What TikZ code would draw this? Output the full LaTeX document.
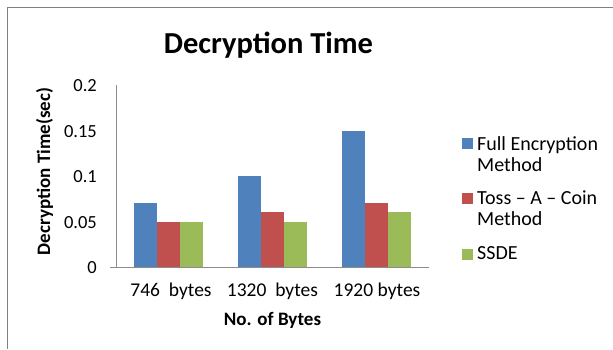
\documentclass[tikz,border=0pt]{standalone}
\usepackage{fontspec}
\setmainfont{Carlito}
\definecolor{serA}{HTML}{4F81BD}
\definecolor{serB}{HTML}{C0504D}
\definecolor{serC}{HTML}{9BBB59}
\definecolor{gridgray}{HTML}{8C8C8C}
\definecolor{framegray}{HTML}{808080}
\begin{document}
\begin{tikzpicture}[x=1pt,y=-1pt,
  gridline/.style={draw=gridgray, line width=0.9pt},
  ticklabel/.style={anchor=east, inner sep=0pt, font=\fontsize{18.5}{18.5}\selectfont},
  catlabel/.style={anchor=base, inner sep=0pt, font=\fontsize{19.5}{19.5}\selectfont},
  axistitle/.style={anchor=base, inner sep=0pt, font=\bfseries\fontsize{19}{19}\selectfont},
  legtext/.style={anchor=base west, inner sep=0pt, align=left, font=\fontsize{20}{21}\selectfont},
  legkey/.style={draw=none, inner sep=0pt, minimum size=11pt}]
\useasboundingbox (0,0) rectangle (613,349);

% chart frame
\draw[framegray, line width=1.5pt] (7.5,349) -- (7.5,7.5) -- (613,7.5);

% title
\node[anchor=base, inner sep=0pt, font=\bfseries\fontsize{30.5}{30.5}\selectfont] (title) at (268.5,53) {Decryption Time};

% gridlines with tick stubs
\foreach \v/\y in {0/267,0.05/222,0.1/176,0.15/131,0.2/85}{
  \coordinate (gl\v) at (110,\y);
  \coordinate (gr\v) at (429,\y);
  \draw[gridline] (gl\v) -- (gr\v);
  \node[ticklabel] (tick\v) at (97,\y+1) {\v};
}
% value axis
\coordinate (ytop) at (116,85);
\coordinate (ybot) at (116,267);
\draw[gridline] (ytop) -- (ybot);

% bars: value v has height 910*v
\foreach \g/\c/\a/\b/\d in {1/168.2/0.07/0.05/0.05, 2/272.5/0.10/0.06/0.05, 3/376.8/0.15/0.07/0.06}{
  \fill[serA] (\c-34.5,267) rectangle (\c-11.5,267-910*\a);
  \fill[serB] (\c-11.5,267) rectangle (\c+11.5,267-910*\b);
  \fill[serC] (\c+11.5,267) rectangle (\c+34.5,267-910*\d);
}
% redraw the base line over the bars
\draw[gridline] (gl0) -- (gr0);

% category labels
\node[catlabel] (c1) at (171,296.5) {746\ \ bytes};
\node[catlabel] (c2) at (272.5,296.5) {1320\ \ bytes};
\node[catlabel] (c3) at (377,296.5) {1920 bytes};

% axis titles
\node[axistitle] (xtitle) at (272.5,325) {No. of Bytes};
\node[axistitle, rotate=90] (ytitle) at (50,171.5) {Decryption Time(sec)};

% legend (base of a two-line entry is its last line)
\node[legkey, fill=serA] (k1) at (467.5,143) {};
\node[legtext] (l1) at (477,171) {Full Encryption\\Method};
\node[legkey, fill=serB] (k2) at (467.5,198.5) {};
\node[legtext] (l2) at (477,225) {Toss -- A -- Coin\\Method};
\node[legkey, fill=serC] (k3) at (467.5,254.5) {};
\node[legtext] (l3) at (477,259) {SSDE};
\end{tikzpicture}
\end{document}
